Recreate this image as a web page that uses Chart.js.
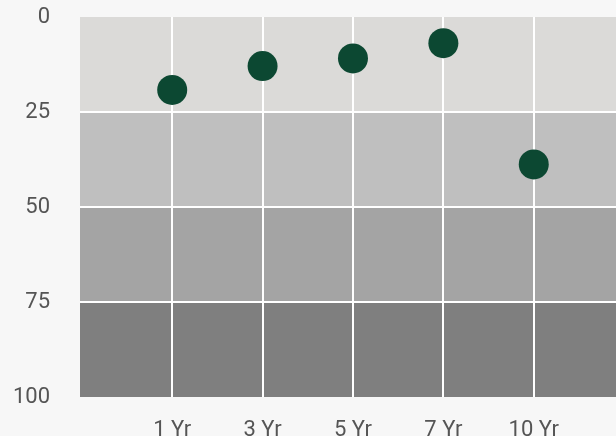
<!DOCTYPE html>
<html>
<head>
<meta charset="utf-8">
<script src="https://cdn.jsdelivr.net/npm/chart.js@4"></script>
<style>
  html, body { margin: 0; padding: 0; background: #f7f7f7; overflow: hidden; }
  #wrap { position: relative; width: 616px; height: 446px; }
</style>
</head>
<body>
<div id="wrap"><canvas id="rank-chart"></canvas></div>
<script>
// Chart data
const periods = ['1 Yr', '3 Yr', '5 Yr', '7 Yr', '10 Yr'];
const ranks = [19.2, 12.9, 10.9, 6.9, 38.8];
const yTicks = [0, 25, 50, 75, 100];

// Quartile bands, best (0) to worst (100)
const bandEdges = [0, 25, 50, 75, 100];
const bandColors = ['#dbdad8', '#bfbfbf', '#a4a4a4', '#7f7f7f'];

// Paint the shaded bands behind grid and points
const bandPlugin = {
  id: 'bands',
  beforeDraw(chart) {
    const { ctx, chartArea, scales } = chart;
    ctx.save();
    for (let i = 0; i < bandColors.length; i++) {
      const y1 = scales.y.getPixelForValue(bandEdges[i]);
      const y2 = scales.y.getPixelForValue(bandEdges[i + 1]);
      ctx.fillStyle = bandColors[i];
      ctx.fillRect(chartArea.left, Math.min(y1, y2), chartArea.right - chartArea.left, Math.abs(y2 - y1));
    }
    ctx.restore();
  }
};

const ctx = document.getElementById('rank-chart').getContext('2d');

new Chart(ctx, {
  type: 'scatter',
  data: {
    datasets: [{
      data: ranks.map((r, i) => ({ x: i + 1, y: r })),
      backgroundColor: '#0c4832',
      borderColor: '#0c4832',
      borderWidth: 0,
      pointRadius: 15,
      pointHoverRadius: 15
    }]
  },
  options: {
    responsive: true,
    maintainAspectRatio: false,
    animation: false,
    layout: {
      autoPadding: false,
      padding: { top: 17, right: 0, bottom: 0, left: 0 }
    },
    plugins: {
      legend: { display: false },
      tooltip: { enabled: false }
    },
    scales: {
      x: {
        type: 'linear',
        min: -0.02,
        max: 5.91,
        border: { display: false },
        grid: {
          color: '#ffffff',
          lineWidth: 2,
          drawTicks: false
        },
        afterBuildTicks: (axis) => {
          axis.ticks = periods.map((p, i) => ({ value: i + 1 }));
        },
        afterFit: (axis) => {
          axis.height = 49;
          axis.paddingLeft = 0;
          axis.paddingRight = 0;
        },
        ticks: {
          padding: 20,
          color: '#555555',
          font: { family: 'Roboto', size: 22 },
          callback: (value) => periods[value - 1] || ''
        }
      },
      y: {
        reverse: true,
        min: 0,
        max: 100,
        border: { display: false },
        grid: {
          color: (c) => (c.tick && (c.tick.value === 0 || c.tick.value === 100)) ? 'rgba(0,0,0,0)' : '#ffffff',
          lineWidth: 2,
          drawTicks: false
        },
        afterBuildTicks: (axis) => {
          axis.ticks = yTicks.map(v => ({ value: v }));
        },
        afterFit: (axis) => {
          axis.width = 80;
          axis.paddingTop = 0;
          axis.paddingBottom = 0;
        },
        ticks: {
          padding: 30,
          color: '#555555',
          font: { family: 'Roboto', size: 22 }
        }
      }
    }
  },
  plugins: [bandPlugin]
});
</script>
</body>
</html>
